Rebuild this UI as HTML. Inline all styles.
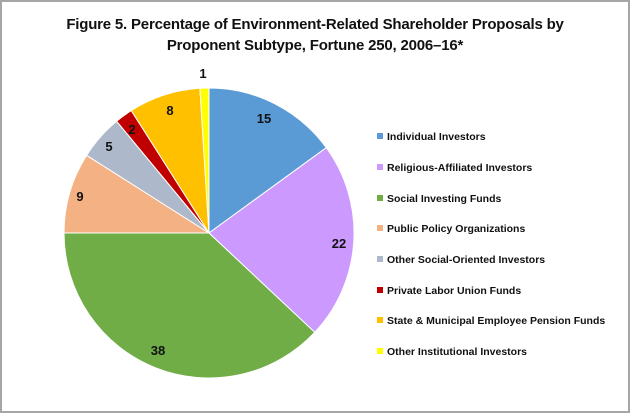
<!DOCTYPE html>
<html><head><style>
body{margin:0;background:#fff;}
.wrap{position:relative;width:626px;height:409px;border:2px solid #a6a6a6;background:#fff;overflow:hidden;font-family:"Liberation Sans",Arial,sans-serif;}
.title{position:absolute;left:0;top:12px;width:626px;text-align:center;font-weight:bold;font-size:15px;line-height:21px;color:#111;letter-spacing:-0.2px;}
.leg{position:absolute;left:375px;font-size:10.5px;font-weight:bold;color:#111;white-space:nowrap;}
.leg i{display:inline-block;width:6px;height:6px;margin-right:4px;vertical-align:1px;}
</style></head><body><div class="wrap">
<div class="title">Figure 5. Percentage of Environment-Related Shareholder Proposals by<br>Proponent Subtype, Fortune 250, 2006–16*</div>
<svg width="626" height="409" style="position:absolute;left:0;top:0" font-family="Liberation Sans,Arial,sans-serif" font-weight="bold" font-size="13" fill="#111">
<g transform="translate(-1,-1)" stroke="#fff" stroke-width="1">
<path d="M208,232 L208,87 A145,145 0 0 1 325.3,146.7Z" fill="#5B9BD5"/>
<path d="M208,232 L325.3,146.7 A145,145 0 0 1 313.7,331.3Z" fill="#CC99FF"/>
<path d="M208,232 L313.7,331.3 A145,145 0 0 1 63,232Z" fill="#70AD47"/>
<path d="M208,232 L63,232 A145,145 0 0 1 85.6,154.3Z" fill="#F4B183"/>
<path d="M208,232 L85.6,154.3 A145,145 0 0 1 115.6,120.2Z" fill="#ADB9CA"/>
<path d="M208,232 L115.6,120.2 A145,145 0 0 1 130.3,109.6Z" fill="#C00000"/>
<path d="M208,232 L130.3,109.6 A145,145 0 0 1 198.9,87.3Z" fill="#FFC000"/>
<path d="M208,232 L198.9,87.3 A145,145 0 0 1 208,87Z" fill="#FFFF00"/>
</g>
<g text-anchor="middle" stroke="none">
<text x="262" y="121">15</text>
<text x="337" y="246">22</text>
<text x="156" y="353">38</text>
<text x="78" y="199">9</text>
<text x="107" y="149">5</text>
<text x="130" y="132">2</text>
<text x="168" y="113">8</text>
<text x="201" y="76">1</text>
</g>
</svg>
<div class="leg" style="top:129px"><i style="background:#5B9BD5"></i>Individual Investors</div>
<div class="leg" style="top:160px"><i style="background:#CC99FF"></i>Religious-Affiliated Investors</div>
<div class="leg" style="top:191px"><i style="background:#70AD47"></i>Social Investing Funds</div>
<div class="leg" style="top:221px"><i style="background:#F4B183"></i>Public Policy Organizations</div>
<div class="leg" style="top:252px"><i style="background:#ADB9CA"></i>Other Social-Oriented Investors</div>
<div class="leg" style="top:283px"><i style="background:#C00000"></i>Private Labor Union Funds</div>
<div class="leg" style="top:313px"><i style="background:#FFC000"></i>State &amp; Municipal Employee Pension Funds</div>
<div class="leg" style="top:344px"><i style="background:#FFFF00"></i>Other Institutional Investors</div>
</div></body></html>
